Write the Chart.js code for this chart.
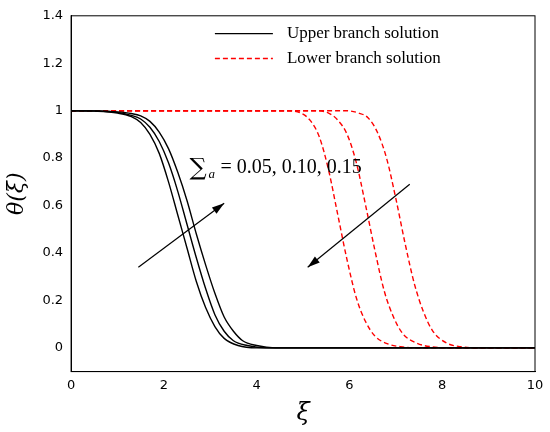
<!DOCTYPE html>
<html>
<head>
<meta charset="UTF-8">
<script src="https://cdn.jsdelivr.net/npm/chart.js@4.4.1/dist/chart.umd.min.js"></script>
<style>
  body { margin: 0; background: #fff; }
  #wrap { width: 550px; height: 432px; }
</style>
</head>
<body>
<div id="wrap"><canvas id="c"></canvas></div>
<script>
// upper branch (solid black), x / theta pairs
const upX1 = [0, 0.5, 1, 1.3, 1.5, 1.7, 1.9, 2.1, 2.3, 2.5, 2.7, 2.9, 3.1, 3.3, 3.6, 4, 10];
const upY1 = [1, 0.998, 0.99, 0.975, 0.95, 0.9, 0.82, 0.7, 0.56, 0.42, 0.28, 0.17, 0.09, 0.04, 0.01, 0, 0];
const upX2 = [0, 0.5, 1, 1.3, 1.5, 1.7, 1.9, 2.1, 2.3, 2.5, 2.7, 2.9, 3.1, 3.3, 3.5, 3.8, 4.2, 10];
const upY2 = [1, 0.999, 0.993, 0.98, 0.965, 0.93, 0.87, 0.78, 0.66, 0.52, 0.38, 0.25, 0.14, 0.07, 0.03, 0.01, 0, 0];
const upX3 = [0, 0.5, 1, 1.3, 1.5, 1.7, 1.9, 2.1, 2.3, 2.5, 2.7, 2.9, 3.1, 3.3, 3.5, 3.7, 4, 4.4, 10];
const upY3 = [1, 0.999, 0.995, 0.988, 0.978, 0.955, 0.91, 0.84, 0.74, 0.62, 0.48, 0.35, 0.23, 0.13, 0.07, 0.03, 0.01, 0, 0];
// lower branch (dashed red)
const loX1 = [0, 4.65, 4.95, 5.15, 5.35, 5.55, 5.75, 5.95, 6.15, 6.35, 6.55, 6.85, 7.15, 7.55, 10];
const loY1 = [1, 1, 0.99, 0.96, 0.89, 0.75, 0.56, 0.37, 0.21, 0.11, 0.05, 0.015, 0.004, 0, 0];
const loX2 = [0, 5.25, 5.55, 5.75, 5.95, 6.15, 6.35, 6.55, 6.75, 6.95, 7.15, 7.45, 7.75, 8.15, 10];
const loY2 = [1, 1, 0.99, 0.96, 0.9, 0.78, 0.6, 0.41, 0.24, 0.13, 0.06, 0.02, 0.005, 0, 0];
const loX3 = [0, 5.9, 6.2, 6.4, 6.6, 6.8, 7.0, 7.2, 7.4, 7.6, 7.8, 8.1, 8.4, 8.8, 10];
const loY3 = [1, 1, 0.99, 0.97, 0.91, 0.8, 0.63, 0.44, 0.27, 0.15, 0.07, 0.02, 0.005, 0, 0];

const xTicks = [0, 2, 4, 6, 8, 10];
const yTicks = [0, 0.2, 0.4, 0.6, 0.8, 1, 1.2, 1.4];
const legendLabels = ['Upper branch solution', 'Lower branch solution'];
const sigmaLabel = ' = 0.05, 0.10, 0.15';

const pts = (xs, ys) => xs.map((x, i) => ({ x: x, y: ys[i] }));
const solid = d => ({ data: d, borderColor: '#000', borderWidth: 1.4, pointRadius: 0, fill: false });
const dashed = d => ({ data: d, borderColor: '#ff0000', borderWidth: 1.4, borderDash: [5, 3], pointRadius: 0, fill: false });

const overlay = {
  id: 'overlay',
  afterDraw(chart) {
    const ctx = chart.ctx, xs = chart.scales.x, ys = chart.scales.y;
    const X = v => xs.getPixelForValue(v), Y = v => ys.getPixelForValue(v);
    ctx.save();
    // legend
    const lx = X(3.1), ly = [Y(1.325), Y(1.22)];
    legendLabels.forEach((t, i) => {
      ctx.strokeStyle = i ? '#ff0000' : '#000';
      ctx.lineWidth = 1.4;
      ctx.setLineDash(i ? [5, 3] : []);
      ctx.beginPath(); ctx.moveTo(lx, ly[i]); ctx.lineTo(lx + 58, ly[i]); ctx.stroke();
      ctx.setLineDash([]);
      ctx.fillStyle = '#000';
      ctx.font = '17px "Liberation Serif", serif';
      ctx.textBaseline = 'middle';
      ctx.fillText(t, lx + 72, ly[i]);
    });
    // sigma label
    ctx.font = '24px "DejaVu Serif", serif';
    ctx.fillStyle = '#000';
    ctx.textBaseline = 'alphabetic';
    const sx = X(2.55), sy = Y(0.73);
    ctx.fillText('\u2211', sx, sy);
    ctx.font = 'italic 13px "Liberation Serif", serif';
    ctx.fillText('a', sx + 19, sy + 3);
    ctx.font = '20px "Liberation Serif", serif';
    ctx.fillText(sigmaLabel, sx + 26, sy - 2);
    // arrows
    const arrow = (x1, y1, x2, y2) => {
      const a = X(x1), b = Y(y1), c = X(x2), d = Y(y2);
      ctx.strokeStyle = '#000'; ctx.lineWidth = 1.2;
      ctx.beginPath(); ctx.moveTo(a, b); ctx.lineTo(c, d); ctx.stroke();
      const ang = Math.atan2(d - b, c - a), L = 13, W = 0.3;
      ctx.beginPath();
      ctx.moveTo(c, d);
      ctx.lineTo(c - L * Math.cos(ang - W), d - L * Math.sin(ang - W));
      ctx.lineTo(c - L * Math.cos(ang + W), d - L * Math.sin(ang + W));
      ctx.closePath(); ctx.fill();
    };
    arrow(1.45, 0.34, 3.3, 0.61);
    arrow(7.3, 0.69, 5.1, 0.34);
    ctx.restore();
  }
};

new Chart(document.getElementById('c'), {
  type: 'line',
  data: {
    datasets: [
      solid(pts(upX1, upY1)), solid(pts(upX2, upY2)), solid(pts(upX3, upY3)),
      dashed(pts(loX1, loY1)), dashed(pts(loX2, loY2)), dashed(pts(loX3, loY3))
    ]
  },
  options: {
    responsive: true,
    maintainAspectRatio: false,
    animation: false,
    layout: { padding: { top: 5, right: 15, left: 0, bottom: 0 } },
    elements: { line: { tension: 0.4, cubicInterpolationMode: 'monotone' } },
    plugins: { legend: { display: false }, tooltip: { enabled: false } },
    scales: {
      x: {
        type: 'linear', min: 0, max: 10,
        afterBuildTicks: s => { s.ticks = xTicks.map(v => ({ value: v })); },
        grid: { display: false, drawTicks: false },
        border: { color: '#000', width: 1 },
        ticks: { color: '#000', font: { size: 13, family: 'DejaVu Sans' }, padding: 6, callback: v => String(v) },
        title: { display: true, text: 'ξ', color: '#000', font: { size: 24, family: 'DejaVu Serif', style: 'italic' }, padding: { top: 0 } }
      },
      y: {
        type: 'linear', min: -0.1, max: 1.4,
        afterBuildTicks: s => { s.ticks = yTicks.map(v => ({ value: v })); },
        grid: { display: false, drawTicks: false },
        border: { color: '#000', width: 1 },
        ticks: { color: '#000', font: { size: 13, family: 'DejaVu Sans' }, padding: 8, callback: v => String(v) },
        title: { display: true, text: 'θ(ξ)', color: '#000', font: { size: 22, family: 'DejaVu Serif', style: 'italic' } }
      }
    }
  },
  plugins: [overlay, {
    id: 'frame',
    afterDraw(chart) {
      const a = chart.chartArea, ctx = chart.ctx;
      ctx.save(); ctx.strokeStyle = '#000'; ctx.lineWidth = 1;
      ctx.strokeRect(a.left, a.top, a.right - a.left, a.bottom - a.top);
      ctx.restore();
    }
  }]
});
</script>
</body>
</html>
